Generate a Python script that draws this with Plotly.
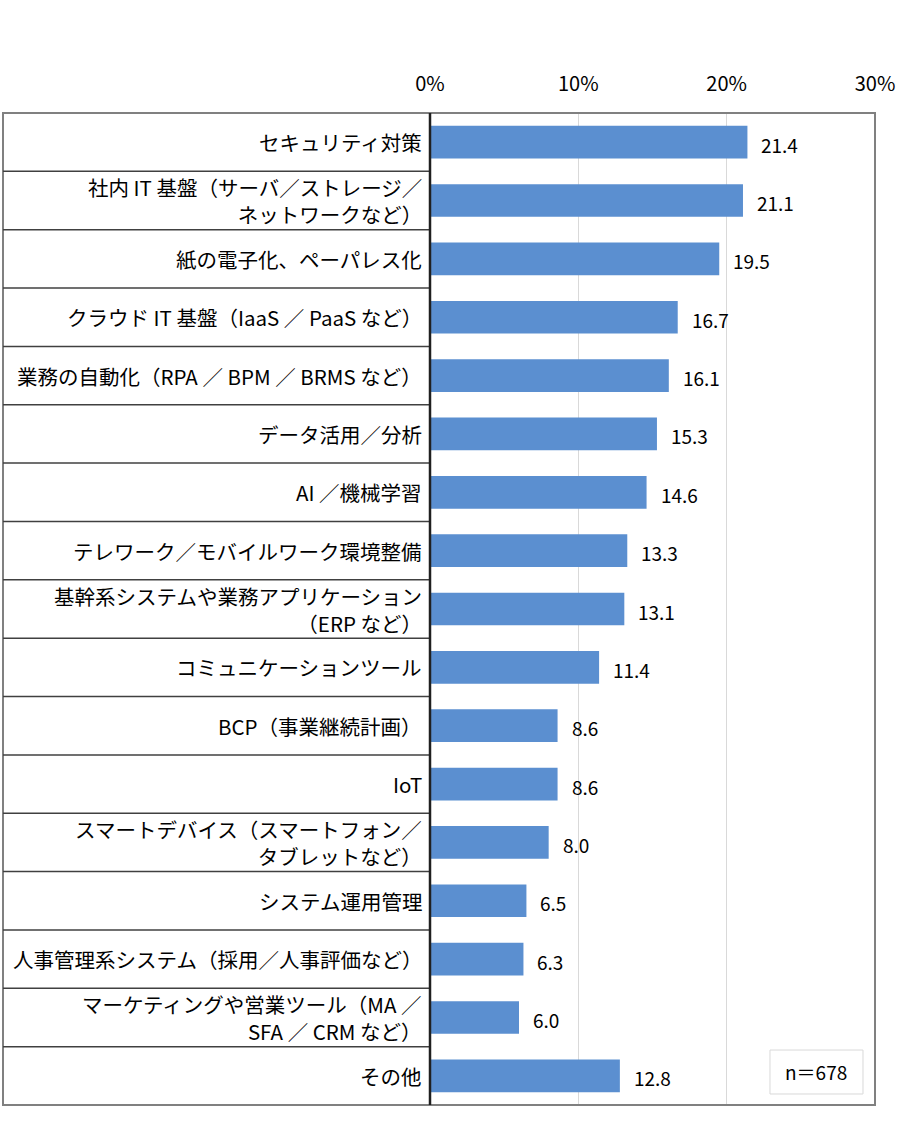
import plotly.graph_objects as go

# ---------------------------------------------------------------
# DATA

categories = [
    "セキュリティ対策",
    "社内 IT 基盤（サーバ／ストレージ／<br>ネットワークなど）",
    "紙の電子化、ペーパレス化",
    "クラウド IT 基盤（IaaS ／ PaaS など）",
    "業務の自動化（RPA ／ BPM ／ BRMS など）",
    "データ活用／分析",
    "AI ／機械学習",
    "テレワーク／モバイルワーク環境整備",
    "基幹系システムや業務アプリケーション<br>（ERP など）",
    "コミュニケーションツール",
    "BCP（事業継続計画）",
    "IoT",
    "スマートデバイス（スマートフォン／<br>タブレットなど）",
    "システム運用管理",
    "人事管理系システム（採用／人事評価など）",
    "マーケティングや営業ツール（MA ／<br>SFA ／ CRM など）",
    "その他",
]
values = [21.4, 21.1, 19.5, 16.7, 16.1, 15.3, 14.6, 13.3, 13.1,
          11.4, 8.6, 8.6, 8.0, 6.5, 6.3, 6.0, 12.8]
x_ticks = [0, 10, 20, 30]
x_tick_labels = ["0%", "10%", "20%", "30%"]
n_note = "n＝678"

# ---------------------------------------------------------------
# PLOT

FONT = "Noto Sans CJK JP"
n = len(categories)
y_pos = list(range(n))
left_edge = (3 - 430) / 445  # label table's left border in paper coords

fig = go.Figure()
fig.add_trace(go.Bar(x=values, y=y_pos, orientation="h",
                     marker=dict(color="#5B8FD0", line=dict(width=0)),
                     hoverinfo="x+y"))

annotations = []
for i, (cat, v) in enumerate(zip(categories, values)):
    # category label in the table on the left
    annotations.append(dict(x=0, xref="paper", y=i, yref="y", text=cat,
                            showarrow=False, xanchor="right", yanchor="middle",
                            xshift=-6, align="right",
                            font=dict(family=FONT, size=20.5, color="#000000")))
    # value label right of the bar
    annotations.append(dict(x=v, xref="x", y=i, yref="y", text=f"{v:.1f}",
                            showarrow=False, xanchor="left", yanchor="middle",
                            xshift=12, yshift=-2,
                            font=dict(family=FONT, size=19, color="#000000")))

annotations.append(dict(x=0.8685, xref="paper", y=0.0333, yref="paper",
                        text=n_note, showarrow=False,
                        xanchor="center", yanchor="middle",
                        font=dict(family=FONT, size=19, color="#000000")))

shapes = []
# outer frame (table + plot)
shapes.append(dict(type="rect", xref="paper", yref="paper",
                   x0=left_edge, x1=1, y0=0, y1=1,
                   line=dict(color="#808080", width=2)))
# row separators in the label table
for i in range(n - 1):
    shapes.append(dict(type="line", xref="paper", yref="y",
                       x0=left_edge, x1=0, y0=i + 0.5, y1=i + 0.5,
                       line=dict(color="#404040", width=1.5)))
# axis line at 0%
shapes.append(dict(type="line", xref="paper", yref="paper",
                   x0=0, x1=0, y0=0, y1=1,
                   line=dict(color="#202020", width=2.5)))
# n box
shapes.append(dict(type="rect", xref="paper", yref="paper",
                   x0=0.764, x1=0.973, y0=0.0111, y1=0.0554,
                   line=dict(color="#D9D9D9", width=1),
                   fillcolor="white", layer="below"))

fig.update_layout(
    width=900, height=1131, autosize=False,
    margin=dict(l=430, r=25, t=113, b=26),
    paper_bgcolor="white", plot_bgcolor="white",
    showlegend=False,
    bargap=0.44,
    font=dict(family=FONT, size=19, color="#000000"),
    xaxis=dict(range=[0, 30], side="top", tickvals=x_ticks,
               ticktext=x_tick_labels, showgrid=True, gridcolor="#D9D9D9",
               gridwidth=1, zeroline=False, showline=False, ticks="",
               ticklabelstandoff=17, automargin=False,
               tickfont=dict(family=FONT, size=20)),
    yaxis=dict(range=[n - 0.5, -0.5], showticklabels=False, showgrid=False,
               zeroline=False, showline=False, ticks="", automargin=False),
    annotations=annotations,
    shapes=shapes,
)

fig.write_html("out.html",
               config={"displayModeBar": False, "responsive": False},
               post_script="document.body.style.margin='0';"
                           "document.body.style.overflow='hidden';")
